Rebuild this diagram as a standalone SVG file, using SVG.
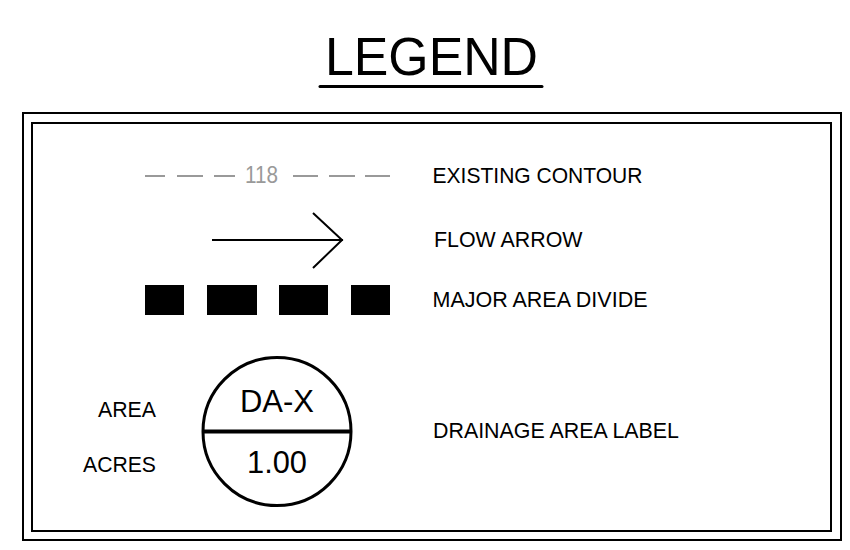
<svg xmlns="http://www.w3.org/2000/svg" width="850" height="550" viewBox="0 0 850 550">
  <style>
    .frame { fill: none; stroke: #000; stroke-width: 2; }
    .label { font-family: "Liberation Sans", Arial, sans-serif; font-size: 22px; fill: #000; }
    .contour { stroke: #999; stroke-width: 2; }
    .big { font-family: "Liberation Sans", Arial, sans-serif; font-size: 32px; fill: #000; }
  </style>
  <rect width="850" height="550" fill="#fff"/>

  <!-- title -->
  <g id="title">
    <text x="325" y="75" font-family="Liberation Sans, Arial, sans-serif" font-size="53" fill="#000" textLength="213" lengthAdjust="spacingAndGlyphs">LEGEND</text>
    <line x1="320" y1="86.5" x2="542" y2="86.5" stroke="#000" stroke-width="3" stroke-linecap="round"/>
  </g>

  <!-- double border -->
  <g id="border">
    <rect class="frame" x="23" y="113" width="818" height="427"/>
    <rect class="frame" x="32" y="123" width="799" height="408"/>
  </g>

  <!-- existing contour -->
  <g id="existing-contour">
    <g class="contour">
      <line x1="145" y1="176" x2="165" y2="176"/>
      <line x1="177" y1="176" x2="203" y2="176"/>
      <line x1="214" y1="176" x2="235" y2="176"/>
      <line x1="293" y1="176" x2="318" y2="176"/>
      <line x1="329" y1="176" x2="355" y2="176"/>
      <line x1="365" y1="176" x2="390" y2="176"/>
    </g>
    <text x="245" y="183.3" font-family="Liberation Sans, Arial, sans-serif" font-size="23" fill="#999" textLength="33" lengthAdjust="spacingAndGlyphs">118</text>
    <text class="label" x="432.5" y="183.3" textLength="210" lengthAdjust="spacingAndGlyphs">EXISTING CONTOUR</text>
  </g>

  <!-- flow arrow -->
  <g id="flow-arrow">
    <line x1="212" y1="240" x2="343" y2="240" stroke="#000" stroke-width="2"/>
    <polyline points="313,213 342,240 313,268" fill="none" stroke="#000" stroke-width="2"/>
    <text class="label" x="434" y="247.3" textLength="148.5" lengthAdjust="spacingAndGlyphs">FLOW ARROW</text>
  </g>

  <!-- major area divide -->
  <g id="major-area-divide">
    <rect x="145" y="285" width="39" height="30" fill="#000"/>
    <rect x="207" y="285" width="50" height="30" fill="#000"/>
    <rect x="279" y="285" width="49" height="30" fill="#000"/>
    <rect x="351" y="285" width="39" height="30" fill="#000"/>
    <text class="label" x="432.5" y="306.7" textLength="215" lengthAdjust="spacingAndGlyphs">MAJOR AREA DIVIDE</text>
  </g>

  <!-- drainage area label -->
  <g id="drainage-area-label">
    <circle cx="277" cy="431.5" r="74" fill="none" stroke="#000" stroke-width="3"/>
    <line x1="203" y1="431.5" x2="351" y2="431.5" stroke="#000" stroke-width="4"/>
    <text class="big" x="240" y="411.7" textLength="74" lengthAdjust="spacingAndGlyphs">DA-X</text>
    <text class="big" x="247" y="472.7" textLength="60" lengthAdjust="spacingAndGlyphs">1.00</text>
    <text class="label" x="98" y="416.7" textLength="58" lengthAdjust="spacingAndGlyphs">AREA</text>
    <text class="label" x="83" y="471.7" textLength="73" lengthAdjust="spacingAndGlyphs">ACRES</text>
    <text class="label" x="433" y="438.3" textLength="246" lengthAdjust="spacingAndGlyphs">DRAINAGE AREA LABEL</text>
  </g>
</svg>
